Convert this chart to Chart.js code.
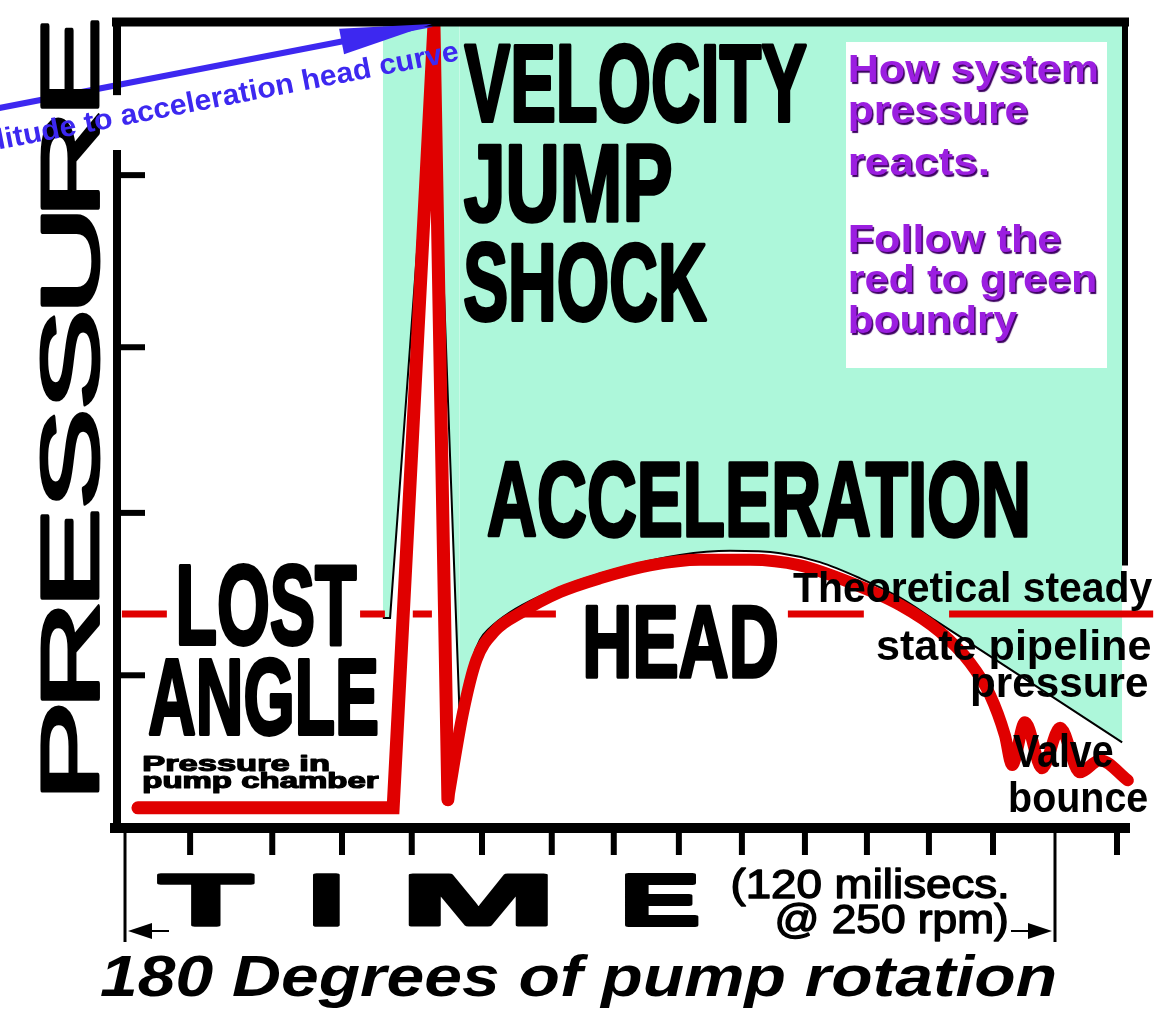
<!DOCTYPE html>
<html>
<head>
<meta charset="utf-8">
<title>Pump pressure vs time</title>
<script src="https://cdn.jsdelivr.net/npm/chart.js@4.4.1/dist/chart.umd.min.js"></script>
<style>
  html, body { margin: 0; padding: 0; background: #fff; }
  canvas { display: block; }
</style>
</head>
<body>
<canvas id="pumpChart" width="1176" height="1009"></canvas>
<script>
// --- DATA (x = degrees of pump rotation, y = pressure, 0..100 of the frame) ---
const ROTATION_SPAN = [0, 180];
const TIME_TICKS = [12.6, 28.5, 42.0, 55.5, 69.1, 82.6, 94.6, 107.2, 119.4, 131.6, 143.6, 155.6, 168.0, 192.0];
const PRESSURE_TICKS = [18.9, 39.0, 59.5, 80.8];

// pressure in pump chamber: lost angle, then the velocity jump shock
const chamberDeg = [2.5, 51.9, 59.8, 62.5];
const chamberP   = [2.5, 2.5, 99.4, 3.5];

// acceleration head recovery + valve bounce
const headDeg = [62.5, 65.4, 68.0, 71.6, 76.5, 84.2, 91.9, 101.6, 111.3, 121.0, 130.6, 140.3, 150.0, 157.7, 163.5, 167.4, 170.3, 171.7, 174.2, 177.5, 181.0, 184.8, 188.7, 194.1];
const headP   = [3.5, 14.2, 20.8, 24.4, 26.6, 29.2, 30.9, 32.5, 33.2, 33.2, 32.5, 30.4, 27.6, 24.3, 20.5, 16.5, 11.5, 7.8, 13.1, 7.4, 12.4, 6.9, 8.4, 5.9];

// red to green boundary (how system pressure reacts)
const spikeEdgeDeg = [49.9, 51.3, 59.8, 64.8];
const spikeEdgeP   = [26.0, 26.0, 99.75, 13.4];
const envelopeDeg = [64.8, 66.0, 67.2, 68.7, 70.6, 74.5, 80.3, 88.1, 97.7, 107.4, 117.1, 126.8, 134.5, 142.3, 150.0, 156.8, 193.0];
const envelopeP   = [13.4, 17.1, 20.8, 23.3, 24.75, 26.7, 28.7, 30.7, 32.5, 33.8, 34.3, 34.0, 32.9, 30.9, 28.5, 25.7, 10.6];

// theoretical steady state pipeline pressure (pieces not hidden by labels)
const STEADY_P = 26.5;
const steadyFrom = [-0.6, 45.5, 55.7, 75.5, 128.3, 159.5];
const steadyTo   = [8.1, 50.3, 59.4, 83.4, 143.0, 199.0];

// amplitude arrow (tail off the left edge, tip at the spike)
const arrowDeg = [-25.2, 59.4];
const arrowP   = [89.0, 99.5];

// --- STYLE ---
const RED = '#e00000';
const GREEN = '#adf7da';
const BLUE = '#3d28f0';
const PURPLE = '#9b1ee0';
const SANS = '"Liberation Sans", Arial, Helvetica, sans-serif';
const NARROW = '"Liberation Sans Narrow", "Liberation Sans", Arial, sans-serif';

const pts = (xs, ys) => xs.map((x, i) => ({ x, y: ys[i] }));

const steadyPts = [];
steadyFrom.forEach((a, i) => {
    if (i) steadyPts.push({ x: (steadyTo[i - 1] + a) / 2, y: null });
    steadyPts.push({ x: a, y: STEADY_P }, { x: steadyTo[i], y: STEADY_P });
});

// --- TEXT HELPERS ---
const Ink = {
    // capitals stretched into a box (left, top, right, bottom)
    box(ctx, txt, l, t, r, b, o = {}) {
        const lw = o.stroke || 0;
        ctx.save();
        ctx.font = `${o.style || ''} ${o.weight || 'bold'} 100px ${o.family || SANS}`;
        const m = ctx.measureText(txt);
        const inkW = m.actualBoundingBoxLeft + m.actualBoundingBoxRight;
        const inkH = m.actualBoundingBoxAscent;
        const sx = (r - l - lw) / inkW, sy = (b - t - lw) / inkH;
        ctx.translate(l + lw / 2, b - lw / 2);
        ctx.scale(sx, sy);
        ctx.translate(m.actualBoundingBoxLeft, 0);
        ctx.fillStyle = o.color || '#000';
        ctx.fillText(txt, 0, 0);
        if (lw) {
            ctx.strokeStyle = o.color || '#000';
            ctx.lineJoin = 'round';
            ctx.lineWidth = lw / Math.sqrt(sx * sy);
            ctx.strokeText(txt, 0, 0);
        }
        ctx.restore();
    },
    // one line of text at a font size, stretched to a width
    line(ctx, txt, l, base, r, size, o = {}) {
        const lw = o.stroke || 0;
        ctx.save();
        ctx.font = `${o.style || ''} ${o.weight || 'bold'} ${size}px ${o.family || SANS}`;
        const m = ctx.measureText(txt);
        const inkW = m.actualBoundingBoxLeft + m.actualBoundingBoxRight;
        const sx = (r - l - lw) / inkW;
        ctx.translate(l + lw / 2, base);
        ctx.scale(sx, 1);
        ctx.translate(m.actualBoundingBoxLeft, 0);
        if (o.shadow) {
            ctx.shadowColor = o.shadow;
            ctx.shadowOffsetX = 1.5;
            ctx.shadowOffsetY = 1.5;
            ctx.shadowBlur = 1;
        }
        ctx.fillStyle = o.color || '#000';
        ctx.fillText(txt, 0, 0);
        if (lw) {
            ctx.shadowColor = 'transparent';
            ctx.strokeStyle = o.color || '#000';
            ctx.lineJoin = 'round';
            ctx.lineWidth = lw / Math.sqrt(sx);
            ctx.strokeText(txt, 0, 0);
        }
        ctx.restore();
    },
    // vertical axis title, letters stretched along the axis
    vertical(ctx, txt, baseX, bottomY, length, capH, gap, lw) {
        ctx.save();
        ctx.translate(baseX, bottomY);
        ctx.rotate(-Math.PI / 2);
        ctx.font = `normal 100px ${SANS}`;
        const letters = txt.split('');
        const ms = letters.map(ch => ctx.measureText(ch));
        const inkSum = ms.reduce((s, m) => s + m.actualBoundingBoxLeft + m.actualBoundingBoxRight, 0);
        const sx = (length - lw - gap * (letters.length - 1)) / inkSum;
        const sy = (capH - lw) / ctx.measureText('E').actualBoundingBoxAscent;
        ctx.fillStyle = '#000';
        ctx.strokeStyle = '#000';
        ctx.lineJoin = 'round';
        let px = lw / 2;
        letters.forEach((ch, i) => {
            const m = ms[i];
            ctx.save();
            ctx.translate(px, -lw / 2);
            ctx.scale(sx, sy);
            ctx.fillText(ch, m.actualBoundingBoxLeft, 0);
            ctx.lineWidth = lw / Math.sqrt(sx * sy);
            ctx.strokeText(ch, m.actualBoundingBoxLeft, 0);
            ctx.restore();
            px += (m.actualBoundingBoxLeft + m.actualBoundingBoxRight) * sx + gap;
        });
        ctx.restore();
    }
};

// --- PLUGINS ---
const paperPlugin = {
    id: 'paper',
    beforeDraw(chart) {
        const c = chart.ctx;
        c.save();
        c.fillStyle = '#fff';
        c.fillRect(0, 0, chart.width, chart.height);
        c.restore();
    }
};

const axesPlugin = {
    id: 'axesFrame',
    afterDatasetsDraw(chart) {
        const c = chart.ctx, a = chart.chartArea;
        const xs = chart.scales.x, ys = chart.scales.y;
        const seg = (x1, y1, x2, y2, w) => {
            c.lineWidth = w;
            c.beginPath(); c.moveTo(x1, y1); c.lineTo(x2, y2); c.stroke();
        };
        c.save();
        c.strokeStyle = '#000';
        c.fillStyle = '#000';
        c.lineCap = 'butt';

        // frame: top, right (stops above the steady state text), left with a gap for the blue note
        seg(a.left - 5, a.top + 2, a.right + 4, a.top + 2, 9);
        seg(a.right, a.top, a.right, ys.getPixelForValue(32.5), 6);
        seg(a.left, a.top, a.left, ys.getPixelForValue(90.7), 8);
        seg(a.left, ys.getPixelForValue(83.9), a.left, a.bottom + 5, 8);
        // time axis
        seg(a.left - 7, a.bottom, a.right + 5, a.bottom, 10);

        PRESSURE_TICKS.forEach(v => {
            const y = ys.getPixelForValue(v);
            seg(a.left, y, a.left + 28, y, 6);
        });
        TIME_TICKS.forEach(v => {
            const x = xs.getPixelForValue(v);
            seg(x, a.bottom, x, a.bottom + 27, 6);
        });

        // 180 degree bracket with arrows
        const yArr = a.bottom + 103;
        ROTATION_SPAN.forEach(v => {
            const x = xs.getPixelForValue(v);
            seg(x, a.bottom, x, a.bottom + 114, 3);
        });
        const x0 = xs.getPixelForValue(ROTATION_SPAN[0]);
        const x1 = xs.getPixelForValue(ROTATION_SPAN[1]);
        seg(x0 + 20, yArr, x0 + 44, yArr, 2);
        seg(x1 - 44, yArr, x1 - 20, yArr, 2);
        c.beginPath();
        c.moveTo(x0 + 3, yArr); c.lineTo(x0 + 27, yArr - 8); c.lineTo(x0 + 27, yArr + 8); c.closePath();
        c.fill();
        c.beginPath();
        c.moveTo(x1 - 3, yArr); c.lineTo(x1 - 27, yArr - 8); c.lineTo(x1 - 27, yArr + 8); c.closePath();
        c.fill();

        // arrow head on the amplitude line
        const meta = chart.getDatasetMeta(0);
        const p0 = meta.data[0], p1 = meta.data[meta.data.length - 1];
        const dx = p1.x - p0.x, dy = p1.y - p0.y, len = Math.hypot(dx, dy);
        const ux = dx / len, uy = dy / len;
        const bx = p1.x - ux * 92, by = p1.y - uy * 92;
        c.fillStyle = BLUE;
        c.beginPath();
        c.moveTo(p1.x, p1.y);
        c.lineTo(bx - uy * 13, by + ux * 13);
        c.lineTo(bx + uy * 13, by - ux * 13);
        c.closePath();
        c.fill();
        c.restore();
    }
};

const labelPlugin = {
    id: 'labels',
    afterDatasetsDraw(chart) {
        const c = chart.ctx;
        c.save();
        c.textBaseline = 'alphabetic';
        c.textAlign = 'left';

        // big condensed headings
        const big = { family: NARROW, stroke: 3 };
        Ink.box(c, 'VELOCITY', 463, 42, 808, 122, big);
        Ink.box(c, 'JUMP', 463, 142, 672, 222, big);
        Ink.box(c, 'SHOCK', 463, 241, 708, 321, big);
        Ink.box(c, 'ACCELERATION', 487, 460, 1028, 537, big);
        Ink.box(c, 'LOST', 178, 563, 358, 645, big);
        Ink.box(c, 'ANGLE', 148, 657, 378, 735, big);
        Ink.box(c, 'HEAD', 585, 603, 778, 678, big);

        // pump chamber note
        Ink.line(c, 'Pressure in', 143, 771, 330, 22, { stroke: 1.5 });
        Ink.line(c, 'pump chamber', 143, 788, 380, 22, { stroke: 1.5 });

        // steady state and valve notes
        Ink.line(c, 'Theoretical steady', 793, 602, 1153, 42);
        Ink.line(c, 'state pipeline', 877, 660, 1150, 42);
        Ink.line(c, 'pressure', 972, 697, 1147, 42);
        Ink.line(c, 'Valve', 1013, 767, 1113, 46);
        Ink.line(c, 'bounce', 1010, 812, 1147, 42);

        // purple note box
        c.fillStyle = '#fff';
        c.fillRect(846, 42, 261, 326);
        const note = { color: PURPLE, shadow: '#3c0060' };
        Ink.line(c, 'How system', 850, 82, 1097, 38, note);
        Ink.line(c, 'pressure', 850, 123, 1027, 38, note);
        Ink.line(c, 'reacts.', 850, 175, 987, 38, note);
        Ink.line(c, 'Follow the', 850, 252, 1060, 38, note);
        Ink.line(c, 'red to green', 850, 292, 1095, 38, note);
        Ink.line(c, 'boundry', 850, 333, 1017, 38, note);

        // axis titles
        Ink.vertical(c, 'PRESSURE', 100, 792, 772, 60, 9, 4);

        const timeStyle = { stroke: 5 };
        Ink.box(c, 'T', 158, 872, 255, 927, timeStyle);
        Ink.box(c, 'I', 313, 872, 340, 927, timeStyle);
        Ink.box(c, 'M', 409, 872, 547, 927, timeStyle);
        Ink.box(c, 'E', 625, 872, 698, 927, timeStyle);
        Ink.line(c, '(120 milisecs.', 732, 898, 1007, 40, { weight: 'normal', family: NARROW, stroke: 1.5 });
        Ink.line(c, '@ 250 rpm)', 777, 933, 1007, 40, { weight: 'normal', family: NARROW, stroke: 1.5 });
        Ink.line(c, '180 Degrees of pump rotation', 100, 996, 1055, 57, { style: 'italic', weight: 'bold', family: NARROW });

        // blue note along the amplitude arrow
        const meta = chart.getDatasetMeta(0);
        const p0 = meta.data[0], p1 = meta.data[meta.data.length - 1];
        const ang = Math.atan2(p1.y - p0.y, p1.x - p0.x);
        c.save();
        c.translate(460, 60);
        c.rotate(ang);
        c.font = `bold 29px ${SANS}`;
        const shown = c.measureText('litude to acceleration head curve').width;
        const sx = 470 / shown;
        c.scale(sx, 1);
        c.textAlign = 'right';
        c.fillStyle = BLUE;
        c.fillText('Amplitude to acceleration head curve', 0, 0);
        c.restore();

        c.restore();
    }
};

// --- CHART ---
window.addEventListener('DOMContentLoaded', () => {
    const ctx = document.getElementById('pumpChart').getContext('2d');
    new Chart(ctx, {
        type: 'line',
        data: {
            datasets: [
                { label: 'Amplitude arrow', data: pts(arrowDeg, arrowP), borderColor: BLUE, borderWidth: 6,
                  borderCapStyle: 'butt', order: 0, clip: false },
                { label: 'Pressure in pump chamber', data: pts(chamberDeg, chamberP), borderColor: RED, borderWidth: 13,
                  borderCapStyle: 'round', borderJoinStyle: 'miter', order: 1, clip: false },
                { label: 'Acceleration head', data: pts(headDeg, headP), borderColor: RED, borderWidth: 12,
                  cubicInterpolationMode: 'monotone', borderCapStyle: 'round', borderJoinStyle: 'round', order: 1, clip: false },
                { label: 'Theoretical steady state', data: steadyPts, borderColor: RED, borderWidth: 7,
                  borderCapStyle: 'butt', spanGaps: false, order: 2, clip: false },
                { label: 'Spike boundary', data: pts(spikeEdgeDeg, spikeEdgeP), borderColor: '#000', borderWidth: 2,
                  backgroundColor: GREEN, fill: { value: 100 }, order: 3 },
                { label: 'Head boundary', data: pts(envelopeDeg, envelopeP), borderColor: '#000', borderWidth: 2,
                  backgroundColor: GREEN, fill: { value: 100 }, cubicInterpolationMode: 'monotone', order: 3 }
            ]
        },
        options: {
            responsive: false,
            animation: false,
            devicePixelRatio: 1,
            layout: { padding: { left: 117, right: 51, top: 20, bottom: 181 } },
            elements: { point: { radius: 0, hoverRadius: 0 } },
            scales: {
                x: { type: 'linear', min: -1.55, max: 193.55, display: false },
                y: { type: 'linear', min: 0, max: 100, display: false }
            },
            plugins: { legend: { display: false }, tooltip: { enabled: false } },
            events: []
        },
        plugins: [paperPlugin, axesPlugin, labelPlugin]
    });
});
</script>
</body>
</html>
